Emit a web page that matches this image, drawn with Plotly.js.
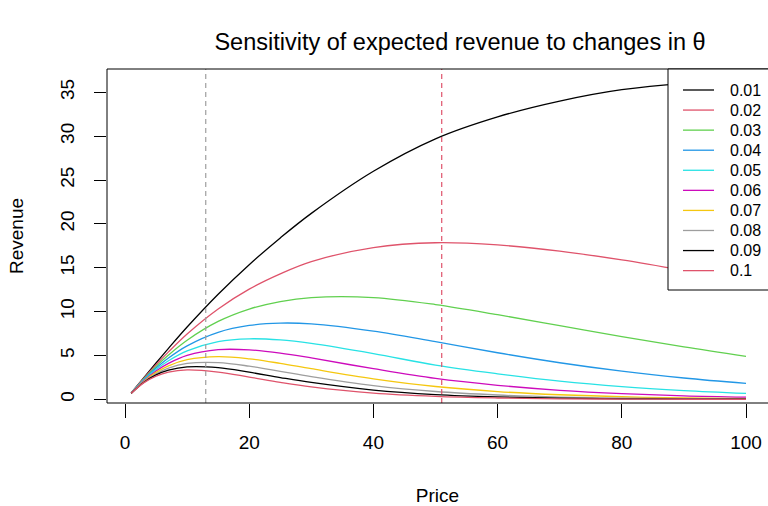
<!DOCTYPE html>
<html><head><meta charset="utf-8">
<script src="https://cdn.plot.ly/plotly-3.0.1.min.js"></script>
<style>html,body{margin:0;padding:0;background:#fff}#chart{width:768px;height:506px}</style>
</head><body><div id="chart"></div>
<script>
// ---- data ----
const price = [1, 3, 5, 7, 10, 15, 20, 25, 30, 40, 50, 60, 70, 80, 90, 100];
const thetaLabels = ["0.01","0.02","0.03","0.04","0.05","0.06","0.07","0.08","0.09","0.1"];
const rev001 = [0.72, 2.44, 4.14, 5.81, 8.24, 11.98, 15.35, 18.4, 21.2, 26.0, 29.7, 32.2, 34.0, 35.3, 36.0, 36.3];
const rev002 = [0.72, 2.37, 3.94, 5.41, 7.45, 10.3, 12.56, 14.3, 15.7, 17.3, 17.85, 17.6, 16.9, 15.9, 14.7, 13.4];
const rev003 = [0.71, 2.30, 3.75, 5.05, 6.74, 8.88, 10.29, 11.15, 11.6, 11.6, 10.8, 9.65, 8.4, 7.14, 5.97, 4.9];
const rev004 = [0.71, 2.24, 3.56, 4.71, 6.10, 7.64, 8.42, 8.69, 8.6, 7.77, 6.57, 5.31, 4.17, 3.21, 2.43, 1.81];
const rev005 = [0.70, 2.17, 3.39, 4.39, 5.52, 6.58, 6.9, 6.77, 6.37, 5.21, 3.9, 2.91, 2.07, 1.44, 0.99, 0.67];
const rev006 = [0.70, 2.10, 3.22, 4.09, 5.0, 5.66, 5.64, 5.27, 4.72, 3.49, 2.38, 1.6, 1.03, 0.65, 0.40, 0.25];
const rev007 = [0.69, 2.04, 3.07, 3.82, 4.52, 4.87, 4.62, 4.1, 3.49, 2.34, 1.46, 0.88, 0.52, 0.29, 0.16, 0.09];
const rev008 = [0.69, 1.98, 2.91, 3.56, 4.09, 4.19, 3.78, 3.19, 2.59, 1.57, 0.89, 0.49, 0.25, 0.13, 0.07, 0.03];
const rev009 = [0.68, 1.92, 2.78, 3.32, 3.7, 3.61, 3.09, 2.48, 1.92, 1.05, 0.54, 0.27, 0.13, 0.06, 0.03, 0.01];
const rev010 = [0.68, 1.87, 2.64, 3.10, 3.35, 3.11, 2.54, 1.94, 1.42, 0.70, 0.33, 0.15, 0.06, 0.03, 0.01, 0.0];
const refPrices = [13, 51];
const xTicks = [0, 20, 40, 60, 80, 100];
const yTicks = [0, 5, 10, 15, 20, 25, 30, 35];

// ---- styles ----
const seriesColors = ["#000000","#DF536B","#61D04F","#2297E6","#28E2E5","#CD0BBC","#F5C710","#9E9E9E","#000000","#DF536B"];
const refColors = ["#9E9E9E", "#DF536B"];
const FONT = "Liberation Sans, Arial, Helvetica, sans-serif";
const W = 768, H = 506, L = 107, R = 768, T = 69, B = 403;
const px2x = p => (p - L) / (R - L);
const py2y = p => (B - p) / (B - T);

const allSeries = [rev001, rev002, rev003, rev004, rev005, rev006, rev007, rev008, rev009, rev010];
const traces = allSeries.map((ys, i) => ({
  type: "scatter", mode: "lines", x: price, y: ys, name: thetaLabels[i],
  line: {color: seriesColors[i], width: 1.3, shape: "spline", smoothing: 1},
  showlegend: false, hoverinfo: "skip"
}));

const shapes = [];
refPrices.forEach((p, i) => shapes.push({
  type: "line", xref: "x", yref: "paper", x0: p, x1: p, y0: 0, y1: 1,
  line: {color: refColors[i], width: 1.2, dash: "5px,4px"}, layer: "above"
}));
// plot frame (right edge runs off the canvas as in the reference)
shapes.push({type: "rect", xref: "paper", yref: "paper", x0: 0, x1: 1.02, y0: 0, y1: 1,
  line: {color: "#000", width: 1}, layer: "above"});
// legend box
const legLeft = 668, legBottom = 290, rowTop = 90, rowGap = 20.07;
shapes.push({type: "rect", xref: "paper", yref: "paper", x0: px2x(legLeft), x1: 1.02, y0: py2y(legBottom), y1: 1,
  fillcolor: "#fff", line: {color: "#000", width: 1}, layer: "above"});
const annotations = [];
thetaLabels.forEach((lab, i) => {
  const yy = py2y(rowTop + rowGap * i);
  shapes.push({type: "line", xref: "paper", yref: "paper", x0: px2x(683), x1: px2x(714), y0: yy, y1: yy,
    line: {color: seriesColors[i], width: 1.3}, layer: "above"});
  annotations.push({xref: "paper", yref: "paper", x: px2x(728), y: yy, xanchor: "left", yanchor: "middle",
    text: lab, showarrow: false, font: {family: FONT, size: 16, color: "#000"}});
});

const layout = {
  width: W, height: H,
  margin: {l: L, r: W - R, t: T, b: H - B, pad: 0},
  paper_bgcolor: "#fff", plot_bgcolor: "#fff",
  font: {family: FONT, color: "#000"},
  showlegend: false,
  title: {text: "Sensitivity of expected revenue to changes in \u03b8", font: {family: FONT, size: 23.5, color: "#000"},
    xref: "container", x: 460 / W, xanchor: "center", yref: "container", y: 1 - 42 / H, yanchor: "middle"},
  xaxis: {range: [-2.9, 103.54], tickmode: "array", tickvals: xTicks, ticktext: xTicks.map(String),
    ticks: "outside", ticklen: 14, tickwidth: 1, tickcolor: "#000", showgrid: false, zeroline: false, showline: false,
    ticklabelstandoff: 8,
    tickfont: {family: FONT, size: 19, color: "#000"},
    title: {text: "Price", font: {family: FONT, size: 19, color: "#000"}, standoff: 36}},
  yaxis: {range: [-0.42, 37.66], tickmode: "array", tickvals: yTicks, ticktext: yTicks.map(String), tickangle: -90,
    ticks: "outside", ticklen: 12, tickwidth: 1, tickcolor: "#000", showgrid: false, zeroline: false, showline: false,
    ticklabelstandoff: 12,
    tickfont: {family: FONT, size: 19, color: "#000"},
    title: {text: "Revenue", font: {family: FONT, size: 19, color: "#000"}, standoff: 28}},
  shapes: shapes,
  annotations: annotations
};
Plotly.newPlot("chart", traces, layout, {staticPlot: true, displayModeBar: false});
</script></body></html>
